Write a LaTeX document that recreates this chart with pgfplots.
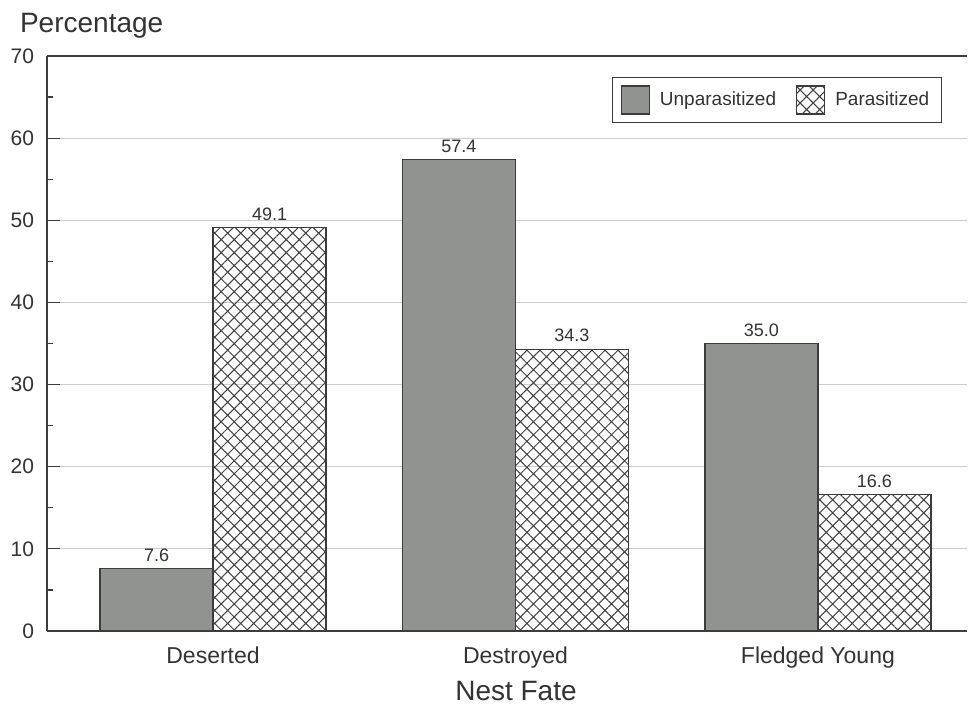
\documentclass[border=0pt]{standalone}
\usepackage{fontspec}
\setmainfont{Liberation Sans}
\usepackage{pgfplots}
\pgfplotsset{compat=1.18}
\usetikzlibrary{patterns.meta}
\definecolor{unpar}{RGB}{145,147,145}
\definecolor{axgray}{RGB}{60,60,60}
\begin{document}
\begin{tikzpicture}
\begin{axis}[
  scale only axis,
  width=460pt, height=287.5pt,
  at={(0,0)}, anchor=south west,
  xmin=-0.549, xmax=2.493,
  ymin=0, ymax=70,
  axis x line*=box, axis y line*=left,
  axis line style={axgray, line width=0.7pt},
  xtick={0,1,2},
  xticklabels={Deserted,Destroyed,Fledged Young},
  xtick style={draw=none},
  ytick={0,10,...,70},
  minor ytick={5,15,...,65},
  tick align=inside,
  major tick length=6.5pt,
  minor tick length=3pt,
  tick style={axgray, line width=0.6pt},
  ymajorgrids,
  grid style={gray!40, line width=0.5pt},
  /pgf/number format/assume math mode=true,
  yticklabel style={font=\fontsize{10.5}{12}\selectfont, text=black!80, xshift=-3pt},
  xticklabel style={font=\fontsize{11.5}{13}\selectfont, text=black!80, yshift=2pt},
  xlabel={Nest Fate},
  xlabel style={font=\fontsize{14}{16}\selectfont, text=black!80, at={(axis description cs:0.5,0)}, anchor=center, xshift=4.5pt, yshift=-30pt},
  title={Percentage},
  title style={font=\fontsize{14}{16}\selectfont, text=black!80, at={(axis description cs:0,1)}, anchor=west, xshift=-17pt, yshift=9pt},
  ybar,
  bar width=0.3736,
  nodes near coords,
  nodes near coords style={font=\fontsize{9}{10}\selectfont, text=black!80, /pgf/number format/.cd, fixed, fixed zerofill, precision=1, assume math mode=true},
  legend style={at={(axis description cs:0.7935,0.9235)}, anchor=center, legend columns=2, draw=axgray, line width=0.6pt, font=\fontsize{9.5}{11}\selectfont, text=black!80, inner xsep=4pt, inner ysep=4pt, /tikz/every odd column/.append style={column sep=3pt}, /tikz/every even column/.append style={column sep=8pt}},
  legend image code/.code={\draw[#1] (0pt,-7pt) rectangle (14pt,7pt);},
]
\addplot[bar shift=-0.1868, fill=unpar, draw=axgray, line width=0.6pt] coordinates {(0,7.6) (1,57.4) (2,35.0)};
\addlegendentry{Unparasitized}
\addplot[bar shift=0.1868, pattern={Hatch[angle=45,distance=4.6pt,line width=0.5pt]}, pattern color=black!75, draw=axgray, line width=0.6pt] coordinates {(0,49.1) (1,34.3) (2,16.6)};
\addlegendentry{Parasitized}
\end{axis}
\pgfresetboundingbox
\path[use as bounding box] (-23.5pt,-38.5pt) rectangle (460.5pt,315.5pt);
\end{tikzpicture}
\end{document}
